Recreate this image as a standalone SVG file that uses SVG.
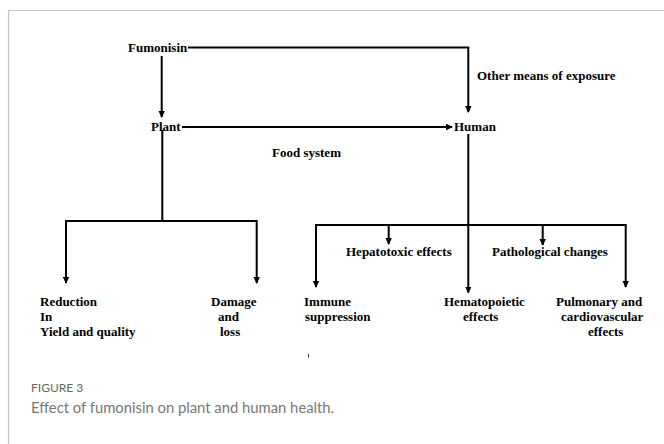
<svg xmlns="http://www.w3.org/2000/svg" width="664" height="444" viewBox="0 0 664 444">
<defs>
<style>
.t{font-family:"Liberation Serif","Times New Roman",serif;font-weight:bold;font-size:13px;fill:#000}
.ln{stroke:#000;stroke-width:2;fill:none}
.ar{stroke:#000;stroke-width:2;fill:none;marker-end:url(#ah)}
.cap1{font-family:Lato,"Open Sans",sans-serif;font-size:12px;fill:#666}
.cap2{font-family:Lato,"Open Sans",sans-serif;font-size:14.8px;fill:#777}
</style>
<marker id="ah" markerWidth="8" markerHeight="8" refX="6" refY="4" orient="auto" markerUnits="userSpaceOnUse">
<path d="M0,0.8 L7,4 L0,7.2 Z" fill="#000"/>
</marker>
</defs>
<rect width="664" height="444" fill="#fff"/>
<path d="M8.5,444 V10.5 H664" stroke="#c4c4c4" stroke-width="1.2" fill="none"/>

<g id="connectors">
<path class="ar" d="M188,47.5 H468.3 V112"/>
<path class="ar" d="M161.7,56 V117"/>
<path class="ar" d="M182,127 H452"/>
<path class="ln" d="M162.3,130 V221 M66,221 H257"/>
<path class="ar" d="M66,220 V283"/>
<path class="ar" d="M256.7,220 V283"/>
<path class="ln" d="M468.3,134 V225 M316,225 H626"/>
<path class="ar" d="M316,224 V287"/>
<path class="ar" d="M388.7,225 V244"/>
<path class="ar" d="M468.3,225 V292.5"/>
<path class="ar" d="M542.7,225 V245"/>
<path class="ar" d="M625.7,224 V287"/>
</g>

<g id="fumonisin"><text class="t" x="128" y="52">Fumonisin</text></g>
<g id="plant"><text class="t" x="151" y="131">Plant</text></g>
<g id="human"><text class="t" x="454" y="131">Human</text></g>
<g id="other-exposure"><text class="t" x="477" y="80">Other means of exposure</text></g>
<g id="food-system"><text class="t" x="272" y="157">Food system</text></g>
<g id="hepatotoxic"><text class="t" x="346" y="256">Hepatotoxic effects</text></g>
<g id="pathological"><text class="t" x="492" y="256">Pathological changes</text></g>
<g id="reduction"><text class="t" y="306"><tspan x="40">Reduction</tspan><tspan x="40" dy="15">In</tspan><tspan x="40" dy="15">Yield and quality</tspan></text></g>
<g id="damage"><text class="t" y="306"><tspan x="211">Damage</tspan><tspan x="218" dy="15">and</tspan><tspan x="220" dy="15">loss</tspan></text></g>
<g id="immune"><text class="t" y="306"><tspan x="304">Immune</tspan><tspan x="305" dy="15">suppression</tspan></text></g>
<g id="hematopoietic"><text class="t" y="306"><tspan x="444">Hematopoietic</tspan><tspan x="463" dy="15">effects</tspan></text></g>
<g id="pulmonary"><text class="t" y="306"><tspan x="556">Pulmonary and</tspan><tspan x="561" dy="15">cardiovascular</tspan><tspan x="588" dy="15">effects</tspan></text></g>

<path d="M308.5,354 V357.5" stroke="#333" stroke-width="1"/>

<text class="cap1" x="31" y="392">FIGURE 3</text>
<text class="cap2" x="31" y="413">Effect of fumonisin on plant and human health.</text>
</svg>
